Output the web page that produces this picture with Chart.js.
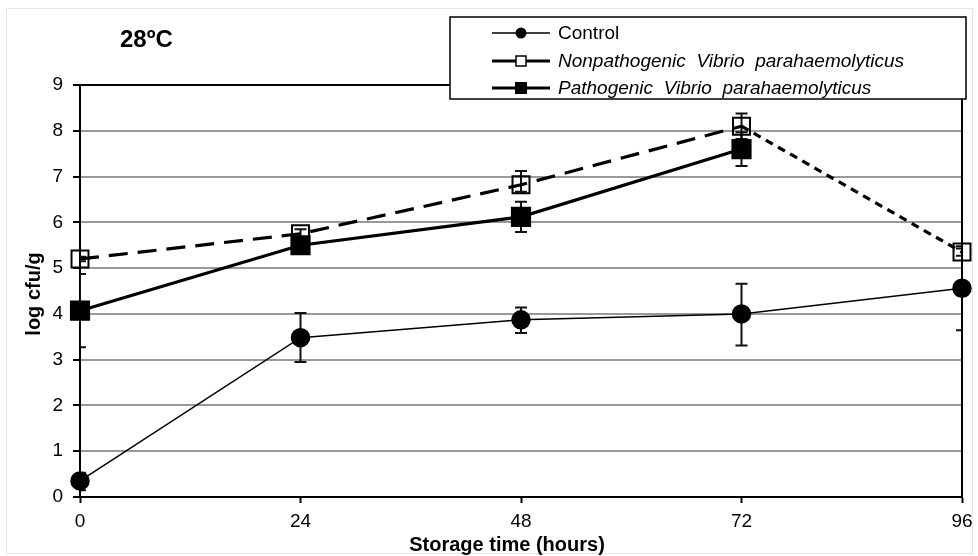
<!DOCTYPE html>
<html lang="en">
<head>
    <meta charset="UTF-8">
    <title>Vibrio growth at 28ºC</title>
    <script src="https://cdn.jsdelivr.net/npm/chart.js"></script>
    <style>
        body { margin: 0; background: #fff; }
        .wrap { position: relative; width: 978px; height: 556px; }
        canvas { display: block; }
    </style>
</head>
<body>
    <div class="wrap">
        <canvas id="growthChart" width="978" height="556"></canvas>
    </div>

    <script>
        // storage time (hours) and log cfu/g readings
        const hours = [0, 24, 48, 72, 96];
        const xTicks = [0, 24, 48, 72, 96];

        const control = [0.35, 3.48, 3.87, 4.0, 4.56];
        const controlErrUp = [0.18, 0.54, 0.27, 0.66, 0.92];
        const controlErrDown = [0.2, 0.53, 0.29, 0.69, 0.92];

        const nonPathogenic = [5.2, 5.75, 6.82, 8.1, 5.35];
        const nonPathErrUp = [0.05, 0.1, 0.3, 0.28, 0.08];
        const nonPathErrDown = [0.05, 0.1, 0.15, 0.28, 0.08];

        const pathogenic = [4.07, 5.5, 6.12, 7.6];
        const pathErrUp = [0.8, 0.12, 0.33, 0.37];
        const pathErrDown = [0.8, 0.12, 0.33, 0.37];

        const seriesNames = ['Control', 'Nonpathogenic  Vibrio  parahaemolyticus', 'Pathogenic  Vibrio  parahaemolyticus'];

        const FONT = 'Arial, "Liberation Sans", sans-serif';

        function toPoints(values) {
            return values.map((v, i) => ({ x: hours[i], y: v }));
        }

        // vertical error bars with caps, clipped to the plot area
        const errorBars = {
            id: 'errorBars',
            beforeDatasetsDraw(chart) {
                const { ctx, chartArea, scales } = chart;
                ctx.save();
                ctx.beginPath();
                ctx.rect(chartArea.left, chartArea.top, chartArea.width, chartArea.height);
                ctx.clip();
                ctx.strokeStyle = '#111';
                ctx.lineWidth = 2;
                chart.data.datasets.forEach(ds => {
                    ds.data.forEach((p, i) => {
                        const x = scales.x.getPixelForValue(p.x);
                        const yTop = scales.y.getPixelForValue(p.y + ds.errUp[i]);
                        const yBot = scales.y.getPixelForValue(p.y - ds.errDown[i]);
                        ctx.beginPath();
                        ctx.moveTo(x, yTop); ctx.lineTo(x, yBot);
                        ctx.moveTo(x - 6, yTop); ctx.lineTo(x + 6, yTop);
                        ctx.moveTo(x - 6, yBot); ctx.lineTo(x + 6, yBot);
                        ctx.stroke();
                    });
                });
                ctx.restore();
            }
        };

        // frame, plot border, titles and the boxed legend
        const decorations = {
            id: 'decorations',
            beforeDraw(chart) {
                const { ctx } = chart;
                ctx.save();
                ctx.strokeStyle = '#e6e6e6';
                ctx.lineWidth = 1;
                ctx.strokeRect(6.5, 8.5, 966, 545);
                ctx.restore();
            },
            afterDraw(chart) {
                const { ctx, chartArea } = chart;
                ctx.save();
                // top and right border of the plot
                ctx.strokeStyle = '#000';
                ctx.lineWidth = 2;
                ctx.beginPath();
                ctx.moveTo(chartArea.left, chartArea.top);
                ctx.lineTo(chartArea.right, chartArea.top);
                ctx.lineTo(chartArea.right, chartArea.bottom);
                ctx.stroke();

                ctx.fillStyle = '#000';
                ctx.font = 'bold 24px ' + FONT;
                ctx.textAlign = 'left';
                ctx.textBaseline = 'middle';
                ctx.fillText('28ºC', 120, 40);

                ctx.font = 'bold 20px ' + FONT;
                ctx.textAlign = 'center';
                ctx.fillText('Storage time (hours)', 507, 545);
                ctx.translate(34, 294);
                ctx.rotate(-Math.PI / 2);
                ctx.fillText('log cfu/g', 0, 0);
                ctx.restore();

                // legend box
                ctx.save();
                const bx = 450, by = 17, bw = 516, bh = 82;
                ctx.fillStyle = '#fff';
                ctx.fillRect(bx, by, bw, bh);
                ctx.strokeStyle = '#000';
                ctx.lineWidth = 1.5;
                ctx.strokeRect(bx, by, bw, bh);

                const rows = [33, 61, 88];
                const lineW = [1.5, 3, 3];
                chart.data.datasets.forEach((ds, i) => {
                    const y = rows[i];
                    ctx.strokeStyle = '#000';
                    ctx.lineWidth = lineW[i];
                    ctx.beginPath();
                    ctx.moveTo(492, y); ctx.lineTo(550, y);
                    ctx.stroke();
                    if (i === 0) {
                        ctx.fillStyle = '#000';
                        ctx.beginPath();
                        ctx.arc(521, y, 5.5, 0, Math.PI * 2);
                        ctx.fill();
                    } else if (i === 1) {
                        ctx.fillStyle = '#fff';
                        ctx.fillRect(516, y - 5, 10, 10);
                        ctx.lineWidth = 1.5;
                        ctx.strokeRect(516, y - 5, 10, 10);
                    } else {
                        ctx.fillStyle = '#000';
                        ctx.fillRect(515, y - 6, 12, 12);
                    }
                    ctx.fillStyle = '#000';
                    ctx.font = (i === 0 ? '' : 'italic ') + '19px ' + FONT;
                    ctx.textAlign = 'left';
                    ctx.textBaseline = 'middle';
                    ctx.fillText(ds.label, 558, y + 1);
                });
                ctx.restore();
            }
        };

        const ctx = document.getElementById('growthChart').getContext('2d');
        new Chart(ctx, {
            type: 'line',
            data: {
                datasets: [
                    {
                        label: seriesNames[0],
                        data: toPoints(control),
                        errUp: controlErrUp, errDown: controlErrDown,
                        borderColor: '#000', borderWidth: 1.5,
                        pointStyle: 'circle', pointRadius: 9,
                        pointBackgroundColor: '#000', pointBorderColor: '#000',
                        clip: false
                    },
                    {
                        label: seriesNames[1],
                        data: toPoints(nonPathogenic),
                        errUp: nonPathErrUp, errDown: nonPathErrDown,
                        borderColor: '#000', borderWidth: 3.2,
                        borderDash: [19, 10],
                        segment: {
                            borderDash: c => c.p0DataIndex === 3 ? [8, 6] : [19, 10]
                        },
                        pointStyle: 'rect', pointRadius: 12, pointBorderWidth: 2,
                        pointBackgroundColor: 'rgba(255,255,255,0)', pointBorderColor: '#000',
                        clip: false
                    },
                    {
                        label: seriesNames[2],
                        data: toPoints(pathogenic),
                        errUp: pathErrUp, errDown: pathErrDown,
                        borderColor: '#000', borderWidth: 3.2,
                        pointStyle: 'rect', pointRadius: 12,
                        pointBackgroundColor: '#000', pointBorderColor: '#000',
                        clip: false
                    }
                ]
            },
            options: {
                responsive: false,
                animation: false,
                layout: { padding: { top: 85, right: 16, left: 0, bottom: 0 } },
                plugins: {
                    legend: { display: false },
                    tooltip: { enabled: false }
                },
                elements: { line: { tension: 0 } },
                scales: {
                    x: {
                        type: 'linear',
                        min: 0, max: 96,
                        afterBuildTicks: axis => { axis.ticks = xTicks.map(v => ({ value: v })); },
                        afterFit: axis => {
                            axis.height = 59;
                            axis.paddingLeft = 0;
                            axis.paddingRight = 0;
                        },
                        border: { color: '#000', width: 2 },
                        grid: { drawOnChartArea: false, drawTicks: true, tickLength: 6, tickColor: '#000', tickWidth: 2 },
                        ticks: { color: '#000', padding: 7, maxRotation: 0,
                                 font: { family: FONT, size: 19 } }
                    },
                    y: {
                        min: 0, max: 9,
                        afterFit: axis => { axis.width = 80; },
                        border: { color: '#000', width: 2 },
                        grid: {
                            color: '#999', lineWidth: 2,
                            drawTicks: true, tickLength: 7, tickColor: '#000', tickWidth: 2
                        },
                        ticks: { stepSize: 1, color: '#000', padding: 10,
                                 font: { family: FONT, size: 19 } }
                    }
                }
            },
            plugins: [errorBars, decorations]
        });
    </script>
</body>
</html>
